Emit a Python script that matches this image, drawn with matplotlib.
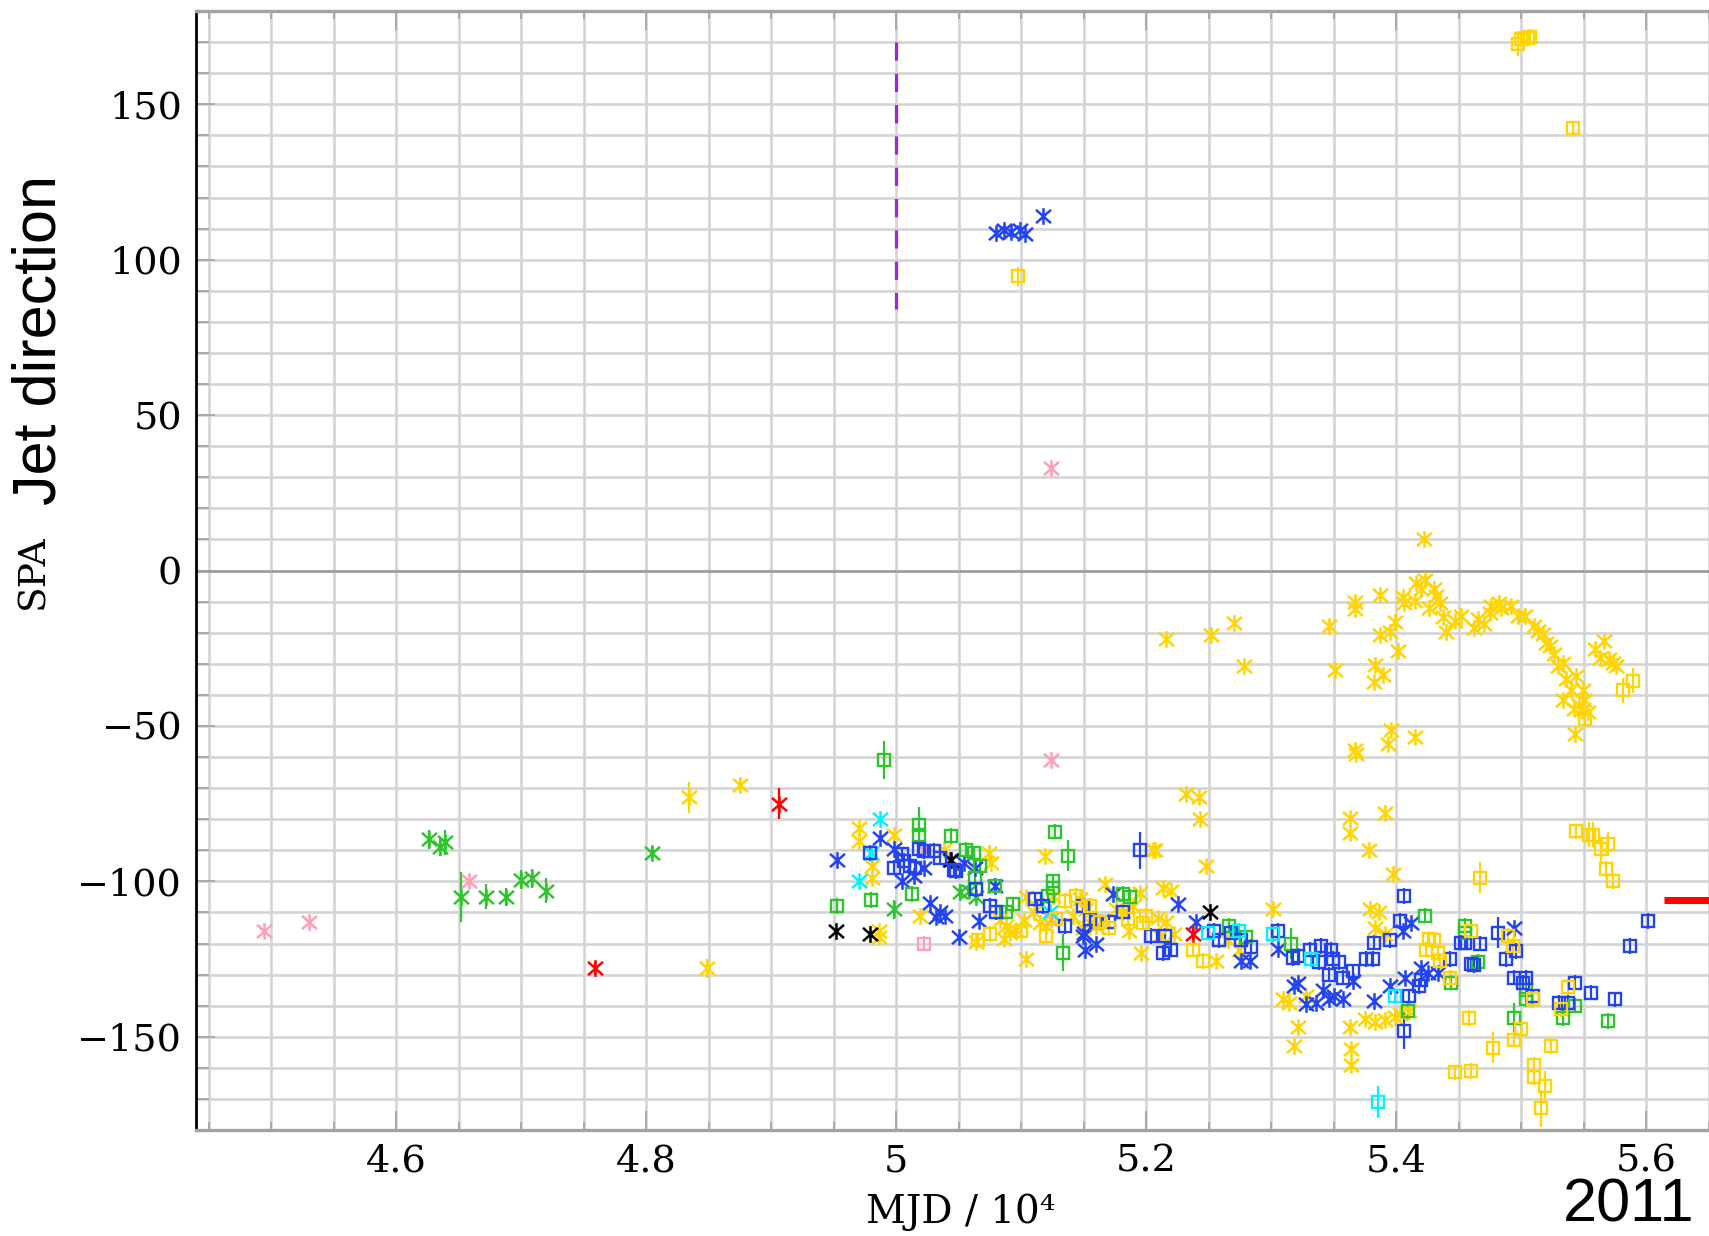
import numpy as np
import matplotlib
matplotlib.use("Agg")
import matplotlib.pyplot as plt
from matplotlib.ticker import MultipleLocator, FuncFormatter
from matplotlib.path import Path

# ---------------- data: (MJD/1e4, SPA [deg], optional error) ----------------
pink_star = [(4.494, -116), (4.530, -113), (4.658, -100), (5.022, -90),
             (5.124, 33), (5.124, -61), (5.124, -112)]
pink_square = [(5.022, -120)]

green_star = [(4.626, -86.5, 3), (4.635, -89, 3), (4.639, -87.5, 4), (4.652, -105, 8),
              (4.672, -105, 4), (4.688, -105, 3), (4.700, -99.5, 3), (4.709, -99, 3),
              (4.720, -103, 4), (4.805, -91, 2), (4.998, -109, 3), (5.051, -103.5, 2),
              (5.058, -103, 2), (5.064, -105, 2)]
green_square = [(4.953, -108), (4.980, -106), (4.990, -61, 6), (5.013, -104),
                (5.018, -82, 6), (5.018, -85, 4), (5.044, -85.5), (5.056, -90),
                (5.062, -91), (5.063, -99), (5.067, -95), (5.079, -101.5),
                (5.088, -110), (5.093, -107.4), (5.121, -104.8), (5.125, -100),
                (5.125, -102), (5.127, -84), (5.133, -123, 6), (5.137, -91.7, 5),
                (5.181, -104), (5.187, -105), (5.266, -114.4), (5.280, -118),
                (5.316, -120, 5), (5.409, -141.7, 3), (5.423, -111), (5.444, -132.6),
                (5.455, -114.4), (5.455, -116.5), (5.465, -126), (5.494, -144, 5),
                (5.504, -135), (5.504, -138), (5.533, -144), (5.543, -140), (5.569, -145)]

red_star = [(4.759, -128, 2), (4.906, -75, 5), (5.237, -117, 2)]
red_bar_x = [5.614, 5.66]
red_bar_y = [-106, -106]

black_star = [(4.952, -116), (4.979, -117), (5.044, -93), (5.251, -110)]

cyan_star = [(4.970, -100), (4.980, -91), (4.987, -80), (5.123, -110)]
cyan_square = [(5.249, -116.5), (5.274, -116), (5.301, -117), (5.332, -125),
               (5.399, -137), (5.385, -171, 5)]

blue_star = [(4.953, -93), (4.987, -86), (4.998, -89.7), (5.005, -100), (5.014, -98.3),
             (5.022, -95.6), (5.027, -107), (5.032, -111.6), (5.035, -110), (5.039, -111),
             (5.043, -93), (5.050, -118), (5.054, -94), (5.063, -95.6), (5.066, -112.8),
             (5.079, -101.5), (5.080, 108.7), (5.086, 109.6), (5.092, 109), (5.099, 109.6),
             (5.103, 108.2), (5.117, 113.9), (5.149, -117.6), (5.151, -122), (5.150, -116.5),
             (5.173, -104), (5.225, -107.4), (5.276, -125.7), (5.283, -125.7), (5.305, -121.7),
             (5.318, -133.7), (5.321, -132.6), (5.328, -139.6), (5.336, -139), (5.341, -134.8),
             (5.346, -138), (5.350, -137), (5.357, -138), (5.365, -132), (5.382, -138.5),
             (5.395, -133.7), (5.405, -116), (5.407, -131), (5.412, -113.5), (5.420, -127.8),
             (5.425, -129.4), (5.433, -129.4), (5.494, -115), (5.160, -120), (5.240, -113)]
blue_square = [(4.979, -90.8), (4.998, -95.6), (5.005, -91.3), (5.006, -93.5), (5.011, -95),
               (5.015, -95.6), (5.018, -89.7), (5.022, -90.3), (5.030, -90.3), (5.035, -92.4),
               (5.046, -96.2), (5.048, -96.7), (5.064, -102.6), (5.075, -108), (5.080, -110),
               (5.111, -105.8), (5.117, -108), (5.135, -114.4), (5.149, -108), (5.155, -112),
               (5.160, -113), (5.170, -113), (5.181, -110), (5.195, -90, 6), (5.204, -117.6),
               (5.213, -123), (5.215, -117.6), (5.220, -122), (5.254, -116), (5.258, -119),
               (5.268, -116.5), (5.276, -119), (5.284, -121), (5.305, -116), (5.317, -124.6),
               (5.321, -124), (5.331, -122), (5.338, -126), (5.340, -120.8), (5.346, -130),
               (5.348, -122), (5.349, -125), (5.354, -126), (5.357, -131), (5.365, -129),
               (5.376, -125), (5.381, -125), (5.382, -119.7), (5.395, -119), (5.403, -112.8),
               (5.406, -104.8), (5.406, -148, 6), (5.410, -137), (5.418, -133.7), (5.420, -131.6),
               (5.443, -125), (5.452, -119.7), (5.455, -119.7), (5.460, -126.7), (5.462, -127),
               (5.467, -120), (5.481, -116.5, 5), (5.488, -125), (5.494, -131), (5.496, -122.4),
               (5.501, -132.6), (5.504, -131), (5.509, -137), (5.530, -139), (5.537, -139),
               (5.543, -132.6), (5.556, -135.8), (5.575, -138), (5.587, -120.8), (5.601, -112.8)]

yellow_star = [(4.834, -73, 5), (4.875, -69, 2), (4.849, -128, 3),
               (4.970, -83), (4.970, -87), (4.998, -85), (4.981, -95), (4.981, -99),
               (4.986, -116), (4.986, -118), (5.019, -111), (5.038, -90), (5.074, -91),
               (5.076, -94), (5.119, -92), (5.064, -119.5), (5.104, -125), (5.104, -105),
               (5.083, -112.3), (5.088, -114.4), (5.091, -116.5), (5.086, -118.7),
               (5.096, -115.5), (5.102, -112.3), (5.110, -110), (5.115, -113.3),
               (5.120, -114.4), (5.125, -104.8), (5.141, -111), (5.152, -109), (5.155, -113.3),
               (5.205, -90), (5.207, -90), (5.232, -72), (5.242, -73), (5.243, -80),
               (5.248, -95), (5.167, -101), (5.213, -102), (5.220, -103), (5.196, -123),
               (5.301, -109), (5.209, -111.7), (5.216, -113), (5.195, -103.7), (5.265, -119),
               (5.274, -122), (5.256, -125.7), (5.222, -117), (5.211, -117.6), (5.186, -116),
               (5.160, -114.4), (5.149, -115), (5.147, -105.8), (5.176, -109), (5.181, -110),
               (5.189, -108),
               (5.309, -138), (5.314, -139), (5.321, -147), (5.318, -153), (5.328, -137),
               (5.363, -79.5), (5.363, -84.4), (5.391, -78), (5.378, -90), (5.397, -97.8),
               (5.379, -109), (5.386, -110), (5.383, -115), (5.391, -117),
               (5.363, -147), (5.364, -154), (5.364, -159),
               (5.375, -144.4), (5.383, -145.4), (5.391, -144.7), (5.399, -143.8),
               (5.403, -142.8), (5.410, -141.8),
               (5.216, -22.1), (5.252, -20.8), (5.270, -17), (5.278, -30.8), (5.346, -17.8),
               (5.351, -31.9), (5.367, -10.1), (5.367, -12.3), (5.387, -8), (5.387, -20.8),
               (5.395, -19.7), (5.399, -16.5), (5.401, -25.8), (5.383, -30.4), (5.382, -36),
               (5.389, -33.5), (5.367, -57.8), (5.368, -58.9), (5.396, -51.4), (5.393, -55.7),
               (5.415, -53.7), (5.422, 10.1),
               (5.405, -8.4), (5.406, -10.6), (5.415, -9.8), (5.416, -3.9), (5.423, -2.9),
               (5.420, -6.1), (5.430, -6.1), (5.432, -8.2), (5.426, -12), (5.435, -10.4),
               (5.437, -14.8), (5.440, -19.7), (5.447, -16.2), (5.452, -14.6), (5.462, -18.4),
               (5.465, -15.7), (5.470, -17.3), (5.475, -13.6), (5.476, -11.4), (5.482, -10.4),
               (5.484, -12), (5.492, -11.4), (5.497, -14.6), (5.503, -14.6), (5.510, -17.8),
               (5.513, -19.4), (5.517, -20.5), (5.520, -23.2), (5.523, -24.2), (5.526, -26.9),
               (5.529, -30.6), (5.533, -29.6), (5.536, -34.9), (5.544, -33.8), (5.540, -38.6),
               (5.533, -41.8), (5.542, -44.5), (5.549, -38.6), (5.550, -41.8), (5.553, -45.6),
               (5.543, -52.6), (5.559, -25.3), (5.563, -28), (5.566, -22.6), (5.570, -28.5),
               (5.573, -29.6), (5.576, -30.6), (5.546, -43.4), (5.549, -44.5)]
yellow_square = [(5.097, 94.6, 3), (5.497, 169.5, 4), (5.500, 171), (5.505, 171.4),
                 (5.507, 171.6), (5.541, 142.2),
                 (5.120, -117.6), (5.135, -106.4), (5.144, -104.8), (5.155, -108),
                 (5.170, -115), (5.197, -113.3), (5.200, -111), (5.237, -122), (5.245, -125.7),
                 (5.065, -119), (5.075, -117), (5.100, -116), (5.128, -112), (5.163, -113),
                 (5.185, -112),
                 (5.467, -98.8, 5), (5.460, -116), (5.426, -118.7), (5.430, -119), (5.424, -122),
                 (5.433, -123), (5.435, -125.7), (5.443, -131), (5.458, -143.9), (5.489, -117.6),
                 (5.493, -120.8), (5.500, -147.6), (5.494, -150.9), (5.477, -153.5, 5),
                 (5.460, -161), (5.447, -161.5), (5.524, -153), (5.510, -159), (5.510, -163),
                 (5.519, -166, 5), (5.516, -173, 6), (5.509, -138), (5.537, -134), (5.532, -141),
                 (5.544, -83.9), (5.554, -85, 4), (5.557, -85, 4), (5.564, -89.7, 4),
                 (5.569, -88, 4), (5.568, -96), (5.573, -100),
                 (5.551, -47.7), (5.581, -38.6, 4), (5.589, -35.4, 4)]

jet_marker_x = [5.0, 5.0]
jet_marker_y = [170, 84]

x_ticks = [4.6, 4.8, 5.0, 5.2, 5.4, 5.6]
y_ticks = [-150, -100, -50, 0, 50, 100, 150]

# ---------------- colours ----------------
C_PINK = "#ff9fb6"
C_GREEN = "#2ec42e"
C_RED = "#ff0000"
C_BLACK = "#000000"
C_CYAN = "#00f2ff"
C_BLUE = "#2443f0"
C_GOLD = "#ffd500"
C_PURPLE = "#a020f0"

W, H = 1709, 1236
fig = plt.figure(figsize=(W / 100, H / 100), dpi=100)
ax = fig.add_axes([196 / W, 1 - 1130 / H, 1 - 196 / W, (1130 - 11) / H])

ax.set_xlim(4.44, 5.65)
ax.set_ylim(-180, 180)
ax.set_axisbelow(True)

ax.xaxis.set_minor_locator(MultipleLocator(0.05))
ax.yaxis.set_minor_locator(MultipleLocator(10))
ax.set_xticks(x_ticks)
ax.set_yticks(y_ticks)
ax.xaxis.set_major_formatter(FuncFormatter(lambda v, p: f"{v:g}"))
ax.yaxis.set_major_formatter(FuncFormatter(lambda v, p: f"{v:g}".replace("-", "\u2212")))

ax.grid(which="both", color="#d4d4d4", lw=1.9)
ax.tick_params(which="both", direction="in", color="#aaaaaa", width=1.4,
               top=True, bottom=True, left=True, right=False,
               labeltop=False, labelright=False)
ax.tick_params(axis="x", which="major", length=14, pad=10, labelsize=27.5)
ax.tick_params(axis="x", which="minor", length=6)
ax.tick_params(axis="y", which="major", length=14, pad=10, labelsize=27.5)
ax.tick_params(axis="y", which="minor", length=9)
for lab in ax.get_xticklabels() + ax.get_yticklabels():
    lab.set_fontfamily("DejaVu Serif")

ax.spines["right"].set_visible(False)
ax.spines["left"].set_color("black")
ax.spines["left"].set_linewidth(2.0)
for s in ("top", "bottom"):
    ax.spines[s].set_color("#a3a3a3")
    ax.spines[s].set_linewidth(2.4)

ax.axhline(0, color="#9a9a9a", lw=1.8, zorder=1.5)

# asterisk: vertical stroke plus an X
STAR = Path([(0, -1), (0, 1), (-0.9, -0.8), (0.9, 0.8), (-0.9, 0.8), (0.9, -0.8)],
            [Path.MOVETO, Path.LINETO, Path.MOVETO, Path.LINETO, Path.MOVETO, Path.LINETO])


def draw(points, color, marker, default_err):
    xs = np.array([p[0] for p in points])
    ys = np.array([p[1] for p in points])
    es = np.array([p[2] if len(p) > 2 else default_err for p in points])
    if marker == "s":
        ax.errorbar(xs, ys, yerr=es, fmt="s", ms=9.2, mfc="none", mec=color,
                    mew=1.7, ecolor=color, elinewidth=1.6, capsize=0, zorder=3)
    else:
        ax.errorbar(xs, ys, yerr=es, fmt="none", ecolor=color, elinewidth=1.6,
                    capsize=0, zorder=3)
        ax.plot(xs, ys, ls="none", marker=marker, ms=12, mec=color, mfc="none",
                mew=1.8, zorder=3)


draw(green_square, C_GREEN, "s", 2.5)
draw(green_star, C_GREEN, STAR, 0)
draw(pink_star, C_PINK, STAR, 0)
draw(pink_square, C_PINK, "s", 2.5)
draw(blue_square, C_BLUE, "s", 2.5)
draw(yellow_star, C_GOLD, STAR, 0)
draw(yellow_square, C_GOLD, "s", 2.5)
draw(blue_star, C_BLUE, STAR, 0)
draw(cyan_square, C_CYAN, "s", 2.5)
draw(cyan_star, C_CYAN, STAR, 0)
draw(black_star, C_BLACK, STAR, 0)
draw(red_star, C_RED, STAR, 0)

ax.plot(red_bar_x, red_bar_y, color=C_RED, lw=5, solid_capstyle="butt", zorder=4)
ax.plot(jet_marker_x, jet_marker_y, color=C_PURPLE, lw=2.3,
        linestyle=(0, (5.7, 4.1)), zorder=4)

fig.text(40 / W, 1 - 340 / H, "Jet direction", rotation=90, ha="center", va="center",
         fontsize=44, family="Liberation Sans")
fig.text(33 / W, 1 - 572 / H, "SPA", rotation=90, ha="center", va="center",
         fontsize=27, family="DejaVu Serif")
fig.text(961 / W, 1 - 1212 / H, "MJD / 10\u2074", ha="center", va="center",
         fontsize=28, family="DejaVu Serif")
fig.text(1695 / W, 1 / H, "2011", ha="right", va="bottom",
         fontsize=44, family="Liberation Sans")

fig.savefig("out.png", dpi=100)
